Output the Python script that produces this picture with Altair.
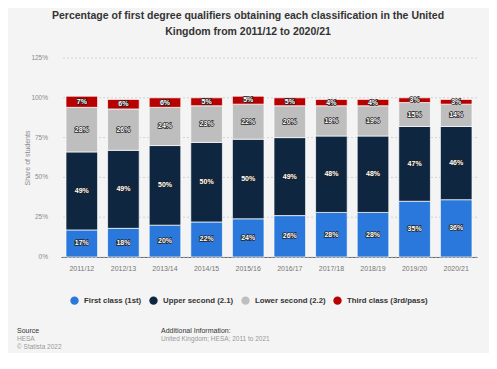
import altair as alt
import pandas as pd

years = ["2011/12", "2012/13", "2013/14", "2014/15", "2015/16",
         "2016/17", "2017/18", "2018/19", "2019/20", "2020/21"]
first_class = [17, 18, 20, 22, 24, 26, 28, 28, 35, 36]
upper_second = [49, 49, 50, 50, 50, 49, 48, 48, 47, 46]
lower_second = [28, 26, 24, 23, 22, 20, 19, 19, 15, 14]
third_class = [7, 6, 6, 5, 5, 5, 4, 4, 3, 3]
y_ticks = [0, 25, 50, 75, 100, 125]
y_tick_labels = ["0%", "25%", "50%", "75%", "100%", "125%"]

series = ["First class (1st)", "Upper second (2.1)", "Lower second (2.2)", "Third class (3rd/pass)"]
colors = ["#2a78dc", "#0f2640", "#bebebe", "#b90000"]
values = [first_class, upper_second, lower_second, third_class]

rows = []
for si, (name, vals) in enumerate(zip(series, values)):
    for y, v in zip(years, vals):
        rows.append({"year": y, "cls": name, "order": si, "value": v})
df = pd.DataFrame(rows)
ticks_df = pd.DataFrame({"v": y_ticks, "lab": y_tick_labels})

FONT = "Liberation Sans"
BG = "#f4f4f4"

base = alt.Chart(df).transform_stack(
    stack="value", as_=["y0", "y1"], groupby=["year"], sort=[alt.SortField("order")]
).transform_calculate(
    mid="(datum.y0 + datum.y1) / 2",
    label="datum.value + '%'"
)

y_scale = alt.Scale(domain=[0, 125], nice=False, zero=True)
x_scale = alt.Scale(paddingInner=0.24, paddingOuter=0.12)

x_axis = alt.Axis(labelAngle=0, labelFontSize=7, labelColor="#777777",
                  labelFont=FONT, ticks=False, domainColor="#666666",
                  domainWidth=1, labelPadding=7, grid=False)
y_axis = alt.Axis(labels=False, ticks=False, domain=False, grid=False,
                  titleFontSize=7, titleColor="#8a8a8a", titleFont=FONT,
                  titleFontWeight="normal", titlePadding=31)
Y_TITLE = "Share of students"

grid = alt.Chart(ticks_df).mark_rule(color="#cfcfcf", strokeDash=[2, 2],
                                     strokeWidth=0.9).encode(
    y=alt.Y("v:Q", title=Y_TITLE, scale=y_scale, axis=y_axis),
)
tick_labels = alt.Chart(ticks_df).mark_text(
    align="right", baseline="middle", fontSize=6.5, font=FONT, color="#8a8a8a").encode(
    x=alt.value(-13),
    y=alt.Y("v:Q", title=Y_TITLE, scale=y_scale, axis=y_axis),
    text="lab:N",
)

bars = base.mark_bar(stroke="#ffffff", strokeWidth=0.7).encode(
    x=alt.X("year:N", sort=years, title=None, scale=x_scale, axis=x_axis),
    y=alt.Y("y0:Q", title=Y_TITLE, scale=y_scale, axis=y_axis),
    y2="y1:Q",
    color=alt.Color("cls:N", sort=series,
                    scale=alt.Scale(domain=series, range=colors),
                    legend=alt.Legend(orient="none", direction="horizontal",
                                      legendX=9, legendY=238, title=None,
                                      symbolType="circle", symbolSize=70,
                                      symbolStrokeWidth=0,
                                      labelFontSize=7.8, labelFont=FONT,
                                      labelFontWeight="bold", labelColor="#333333",
                                      columnPadding=7, symbolOffset=0,
                                      labelOffset=5)),
    order=alt.Order("order:Q"),
)

text_x = alt.X("year:N", sort=years, title=None, scale=x_scale, axis=x_axis)
text_y = alt.Y("mid:Q", title=Y_TITLE, scale=y_scale, axis=y_axis)

label_halo = base.mark_text(fontSize=7, font=FONT, fontWeight="bold",
                            stroke="#222222", strokeWidth=1.4, fill="#222222").encode(
    x=text_x, y=text_y, text="label:N",
)
label_text = base.mark_text(fontSize=7, font=FONT, fontWeight="bold",
                            fill="#ffffff").encode(
    x=text_x, y=text_y, text="label:N",
)

footer_df = pd.DataFrame([
    {"t": "Source", "px": -44, "py": 273, "c": "dark"},
    {"t": "HESA", "px": -44, "py": 281, "c": "light"},
    {"t": "\u00a9 Statista 2022", "px": -44, "py": 289, "c": "light"},
    {"t": "Additional Information:", "px": 100, "py": 273, "c": "dark"},
    {"t": "United Kingdom; HESA; 2011 to 2021", "px": 100, "py": 281, "c": "light"},
])

footer_dark = alt.Chart(footer_df).transform_filter("datum.c == 'dark'").mark_text(
    align="left", baseline="middle", fontSize=7, font=FONT, color="#333333").encode(
    x=alt.X("px:Q", scale=None, axis=None), y=alt.Y("py:Q", scale=None, axis=None), text="t:N")
footer_light = alt.Chart(footer_df).transform_filter("datum.c == 'light'").mark_text(
    align="left", baseline="middle", fontSize=6.5, font=FONT, color="#999999").encode(
    x=alt.X("px:Q", scale=None, axis=None), y=alt.Y("py:Q", scale=None, axis=None), text="t:N")

chart = alt.layer(grid, tick_labels, bars, label_halo, label_text,
                  footer_dark, footer_light).properties(
    width=416, height=199,
    background=BG,
    padding={"left": 53, "top": 50, "right": 12, "bottom": 96},
    autosize=alt.AutoSizeParams(type="none"),
    title=alt.TitleParams(
        text=["Percentage of first degree qualifiers obtaining each classification in the United",
              "Kingdom from 2011/12 to 2020/21"],
        fontSize=10.5, font=FONT, fontWeight="bold", color="#333333",
        anchor="middle", dx=-21, offset=18, lineHeight=16),
).configure_view(stroke=None)

chart.save("out.html", embed_options={"renderer": "svg", "actions": False})
